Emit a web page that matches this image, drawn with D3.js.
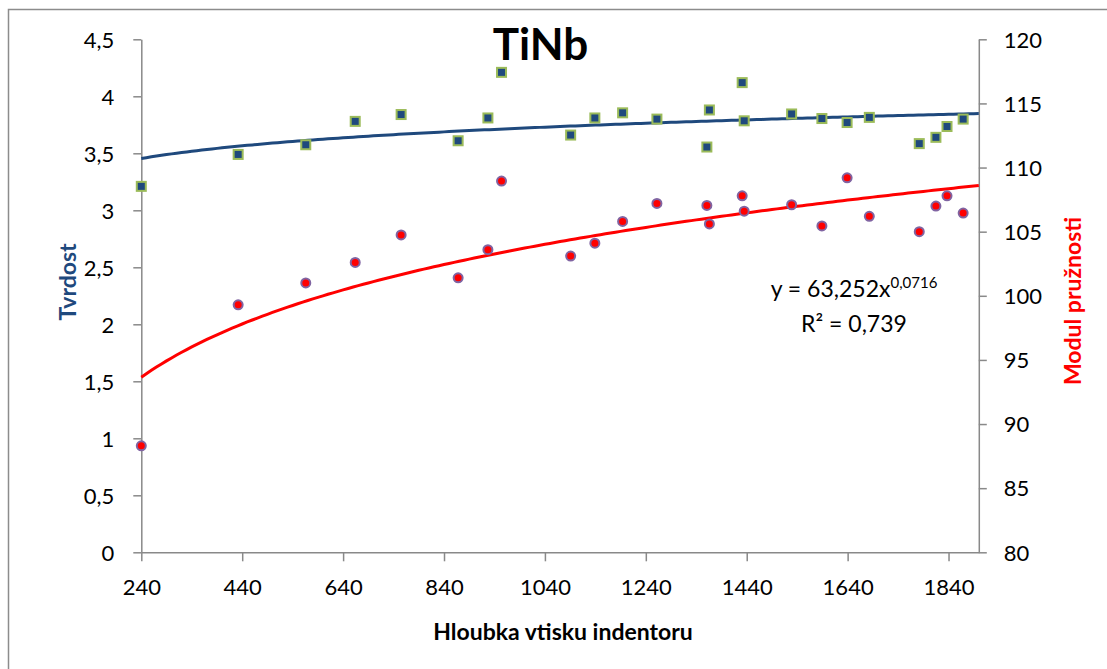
<!DOCTYPE html>
<html>
<head>
<meta charset="utf-8">
<script src="https://cdn.jsdelivr.net/npm/d3@7"></script>
<style>
  body { margin: 0; background: #fff; }
  text { font-family: Lato, "Open Sans", sans-serif; }
</style>
</head>
<body>
<div id="chart"></div>
<script>
// indentation depth (x) – shared by both series
var depth = [240, 432, 566, 664, 755, 868, 927, 954, 1091, 1139, 1194, 1262,
             1361, 1366, 1431, 1435, 1529, 1589, 1639, 1683, 1782, 1815, 1837, 1869];
// Tvrdost (left axis)
var hardness = [3.21, 3.49, 3.575, 3.78, 3.84, 3.61, 3.81, 4.21, 3.66, 3.81, 3.855, 3.80,
                3.555, 3.88, 4.12, 3.785, 3.845, 3.805, 3.77, 3.815, 3.585, 3.64, 3.735, 3.80];
// Modul pruznosti (right axis)
var modulus = [88.3, 99.3, 101.0, 102.6, 104.75, 101.4, 103.6, 108.95, 103.1, 104.1, 105.8, 107.2,
               107.05, 105.6, 107.8, 106.6, 107.1, 105.45, 109.2, 106.2, 105.0, 107.0, 107.8, 106.45];

var xTicks = [240, 440, 640, 840, 1040, 1240, 1440, 1640, 1840];
var leftTicks = [0, 0.5, 1, 1.5, 2, 2.5, 3, 3.5, 4, 4.5];
var rightTicks = [80, 85, 90, 95, 100, 105, 110, 115, 120];

// power trendlines y = a * x^b
var hardFit = {a: 2.595, b: 0.0522};
var modFit = {a: 63.252, b: 0.0716};

var width = 1107, height = 669;
var margin = {top: 39.3, right: 127, bottom: 116.7, left: 141.3};

var svg = d3.select("#chart").append("svg")
    .attr("width", width)
    .attr("height", height);

svg.append("rect")
    .attr("width", width).attr("height", height)
    .attr("fill", "#fff");

// outer chart frame (runs off the right/bottom edge)
svg.append("rect")
    .attr("x", 8.5).attr("y", 9.5)
    .attr("width", 1200).attr("height", 800)
    .attr("fill", "none")
    .attr("stroke", "#8c8c8c")
    .attr("stroke-width", 1.5);

var x = d3.scaleLinear().domain([240, 1900]).range([margin.left, 978.8]);
var yL = d3.scaleLinear().domain([0, 4.5]).range([552.3, margin.top]);
var yR = d3.scaleLinear().domain([80, 120]).range([552.3, margin.top]);

var cz = d3.formatLocale({decimal: ",", thousands: "", grouping: [3], currency: ["", ""]});
var fmt = cz.format("~g");

function styleAxis(g) {
  g.select(".domain").attr("stroke", "#898989").attr("stroke-width", 1.5);
  g.selectAll(".tick line").attr("stroke", "#898989").attr("stroke-width", 1.5);
  g.selectAll(".tick text")
    .attr("fill", "#000")
    .style("font-size", "22px")
    .style("font-family", "Lato, sans-serif");
}

// x axis
var gx = svg.append("g")
    .attr("transform", "translate(0," + yL(0) + ")")
    .call(d3.axisBottom(x).tickValues(xTicks).tickSize(9).tickSizeOuter(0).tickFormat(d3.format("d")));
styleAxis(gx);
gx.selectAll(".tick text").attr("y", 42.5).attr("dy", 0);

// left axis
var gl = svg.append("g")
    .attr("transform", "translate(" + margin.left + ",0)")
    .call(d3.axisLeft(yL).tickValues(leftTicks).tickSize(8).tickSizeOuter(0).tickFormat(fmt));
styleAxis(gl);
gl.selectAll(".tick text").attr("x", -27).attr("dy", 0).attr("y", 7.8);

// right axis
var gr = svg.append("g")
    .attr("transform", "translate(" + x(1900) + ",0)")
    .call(d3.axisRight(yR).tickValues(rightTicks).tickSize(8).tickSizeOuter(0).tickFormat(fmt));
styleAxis(gr);
gr.selectAll(".tick text").attr("x", 25).attr("dy", 0).attr("y", 7.8);

// trend lines
var xs = d3.range(240, 1901, 10);
var hardLine = d3.line()
    .x(function(d) { return x(d); })
    .y(function(d) { return yL(hardFit.a * Math.pow(d, hardFit.b)); });
var modLine = d3.line()
    .x(function(d) { return x(d); })
    .y(function(d) { return yR(modFit.a * Math.pow(d, modFit.b)); });

svg.append("path").datum(xs)
    .attr("d", hardLine)
    .attr("fill", "none")
    .attr("stroke", "#1f497d")
    .attr("stroke-width", 3);

svg.append("path").datum(xs)
    .attr("d", modLine)
    .attr("fill", "none")
    .attr("stroke", "#ff0000")
    .attr("stroke-width", 3);

// markers
var pts = depth.map(function(d, i) { return {x: d, h: hardness[i], m: modulus[i]}; });

svg.selectAll(".hard").data(pts).enter()
  .append("rect")
    .attr("class", "hard")
    .attr("x", function(d) { return x(d.x) - 4.5; })
    .attr("y", function(d) { return yL(d.h) - 4.5; })
    .attr("width", 9).attr("height", 9)
    .attr("fill", "#1f497d")
    .attr("stroke", "#9bbb59")
    .attr("stroke-width", 2);

svg.selectAll(".mod").data(pts).enter()
  .append("circle")
    .attr("class", "mod")
    .attr("cx", function(d) { return x(d.x); })
    .attr("cy", function(d) { return yR(d.m); })
    .attr("r", 4.5)
    .attr("fill", "#ff0000")
    .attr("stroke", "#8064a2")
    .attr("stroke-width", 2);

// title
svg.append("text")
    .attr("x", 540.5).attr("y", 60)
    .attr("text-anchor", "middle")
    .style("font-size", "44px")
    .style("font-weight", "bold")
    .text("TiNb");

// axis titles
svg.append("text")
    .attr("x", 563).attr("y", 640)
    .attr("text-anchor", "middle")
    .style("font-size", "23px")
    .style("font-weight", "bold")
    .text("Hloubka vtisku indentoru");

svg.append("text")
    .attr("transform", "translate(76,282) rotate(-90)")
    .attr("text-anchor", "middle")
    .attr("fill", "#1f497d")
    .style("font-size", "23px")
    .style("font-weight", "bold")
    .text("Tvrdost");

svg.append("text")
    .attr("transform", "translate(1081,301) rotate(-90)")
    .attr("text-anchor", "middle")
    .attr("fill", "#ff0000")
    .style("font-size", "23px")
    .style("font-weight", "bold")
    .text("Modul pružnosti");

// trendline equation
var eq = svg.append("text")
    .attr("x", 854).attr("y", 297)
    .attr("text-anchor", "middle")
    .style("font-size", "23px");
eq.append("tspan").text("y = " + cz.format(".3f")(modFit.a) + "x");
eq.append("tspan").attr("dy", -9).style("font-size", "15px").text(cz.format(".4f")(modFit.b));

svg.append("text")
    .attr("x", 854).attr("y", 332)
    .attr("text-anchor", "middle")
    .style("font-size", "23px")
    .text("R² = 0,739");
</script>
</body>
</html>
